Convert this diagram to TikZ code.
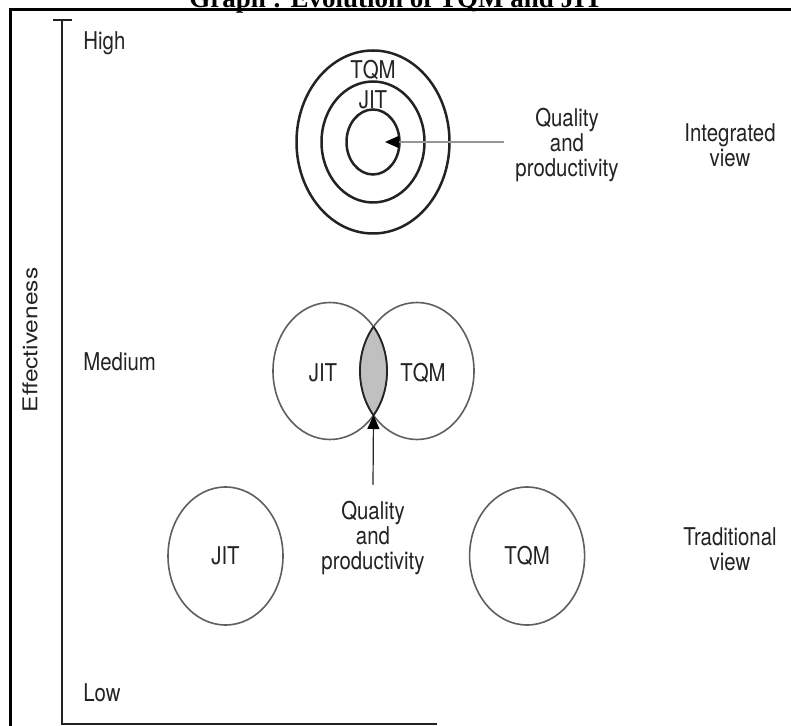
\documentclass[tikz,border=0pt]{standalone}
\usepackage{fontspec}
\setmainfont{TeX Gyre Heros}
\newfontfamily\titlefont{Liberation Serif}
\usetikzlibrary{shapes.geometric, positioning, arrows.meta}
\definecolor{evDark}{RGB}{35,35,35}
\definecolor{evGrey}{RGB}{95,95,95}
\definecolor{evLens}{RGB}{192,192,192}
\definecolor{evPointer}{RGB}{150,150,150}

\begin{document}
\begin{tikzpicture}[
  x=0.5pt, y=-0.5pt,
  lbl/.style={font=\fontsize{10.2pt}{10.4pt}\selectfont, text=evDark, align=center, inner sep=0pt, yscale=1.2},
  ring/.style={ellipse, draw=evDark, line width=1.25pt, inner sep=0pt},
  bubble/.style={ellipse, draw=evGrey, line width=0.8pt, inner sep=0pt, minimum width=57pt, minimum height=68.5pt},
  lensedge/.style={draw=evDark, line width=0.9pt},
  pointer/.style={-{Triangle[length=7pt, width=6pt, color=black]}}
]
  \fill[white] (0,0) rectangle (791,726);
  \useasboundingbox (0,0) rectangle (791,726);

  \node[font=\titlefont\bfseries\fontsize{13.5pt}{14pt}\selectfont, anchor=base] (title) at (396,7.5) {Graph : Evolution of TQM and JIT};
  \draw[line width=1.5pt, black] (10,760) -- (10,10) -- (820,10);

  \coordinate (axTop) at (62,20);
  \coordinate (axOrig) at (62,724);
  \coordinate (axEnd) at (437,724);
  \draw[evDark, line width=1pt] ([xshift=-4.5pt]axTop) -- ([xshift=5pt]axTop);
  \draw[evDark, line width=1pt] (axTop) -- (axOrig) -- (axEnd);
  \node[lbl, rotate=90] (effect) at (30,340) {Effectiveness};
  \node[lbl, anchor=west] (high) at (83,43) {High};
  \node[lbl, anchor=west] (medium) at (83,362) {Medium};
  \node[lbl, anchor=west] (low) at (83,693) {Low};

  \node[ring, minimum width=76.5pt, minimum height=91.5pt] (ringOut) at (373,142) {};
  \node[ring, minimum width=51.5pt, minimum height=60.5pt] (ringMid) at (ringOut.center) {};
  \node[ring, minimum width=26.5pt, minimum height=32.5pt] (ringIn) at (ringOut.center) {};
  \node[lbl] (tqmTop) at (373,70) {TQM};
  \node[lbl] (jitTop) at (373,100) {JIT};
  \node[lbl] (qpTop) at (567,145) {Quality\\and\\productivity};
  \coordinate (core) at (385,142);
  \draw[pointer, evPointer, line width=1pt] ([xshift=-5.5pt]qpTop.west |- core) -- (core);
  \node[lbl] (intView) at (730,145) {Integrated\\view};

  \node[bubble] (jitMid) at (330,371) {};
  \node[bubble] (tqmMid) at (417,371) {};
  \begin{scope}
    \clip (jitMid.center) ellipse [x radius=57, y radius=68.5];
    \fill[evLens] (tqmMid.center) ellipse [x radius=57, y radius=68.5];
    \draw[lensedge] (tqmMid.center) ellipse [x radius=57, y radius=68.5];
  \end{scope}
  \begin{scope}
    \clip (tqmMid.center) ellipse [x radius=57, y radius=68.5];
    \draw[lensedge] (jitMid.center) ellipse [x radius=57, y radius=68.5];
  \end{scope}
  \node[lbl] (jitMidTxt) at (323,373) {JIT};
  \node[lbl] (tqmMidTxt) at (423,373) {TQM};
  \coordinate (lensLow) at (373.5,415);
  \node[lbl] (qpMid) at (373,538) {Quality\\and\\productivity};
  \draw[pointer, evDark, line width=0.6pt] ([yshift=8pt]qpMid.north) -- (lensLow);

  \node[bubble, minimum width=57.5pt, minimum height=69pt] (jitLow) at (225.5,556) {};
  \node[bubble, minimum width=57.5pt, minimum height=69pt, right=92.5pt of jitLow] (tqmLow) {};
  \node[lbl] (jitLowTxt) at (jitLow.center) {JIT};
  \node[lbl] (tqmLowTxt) at (tqmLow.center) {TQM};
  \node[lbl] (tradView) at (730,549) {Traditional\\view};
\end{tikzpicture}
\end{document}
